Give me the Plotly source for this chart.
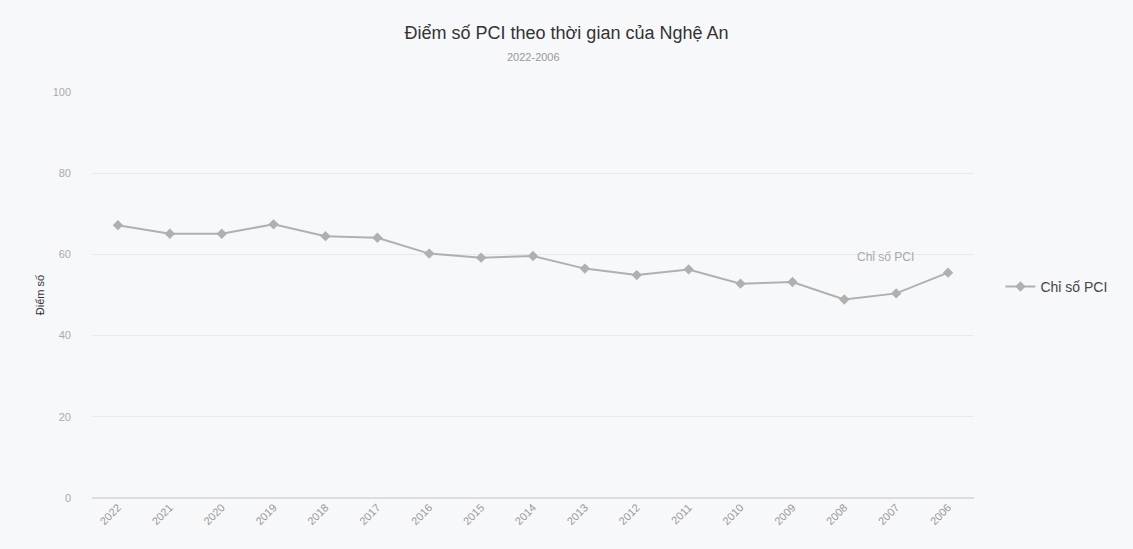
import plotly.graph_objects as go

years = ["2022", "2021", "2020", "2019", "2018", "2017", "2016", "2015", "2014",
         "2013", "2012", "2011", "2010", "2009", "2008", "2007", "2006"]
pci = [67.2, 65.1, 65.1, 67.4, 64.5, 64.1, 60.2, 59.2, 59.6,
       56.5, 54.9, 56.3, 52.8, 53.2, 48.9, 50.4, 55.5]
series_name = "Chỉ số PCI"
title_text = "Điểm số PCI theo thời gian của Nghệ An"
subtitle_text = "2022-2006"
y_title = "Điểm số"
y_ticks = [0, 20, 40, 60, 80, 100]

fig = go.Figure()
fig.add_trace(go.Scatter(
    x=years, y=pci, mode="lines+markers", name=series_name,
    line=dict(color="#b0b0b0", width=2),
    marker=dict(symbol="diamond", size=8, color="#b0b0b0"),
))

last = len(years) - 1

fig.update_layout(
    width=1133, height=549,
    paper_bgcolor="#f7f8fa", plot_bgcolor="#f7f8fa",
    font=dict(family="Liberation Sans, Arial, sans-serif", color="#555"),
    margin=dict(l=92, r=159, t=92, b=51, autoexpand=False),
    title=dict(text=title_text, x=0.5, xanchor="center", y=0.94, yanchor="middle",
               font=dict(size=18, color="#333")),
    annotations=[
        dict(text=subtitle_text, xref="paper", yref="paper", x=0.5, y=1.085,
             xanchor="center", yanchor="middle", showarrow=False,
             font=dict(size=11, color="#999")),
        dict(text=series_name, x=last, y=pci[last], xref="x", yref="y",
             xanchor="right", yanchor="bottom", xshift=-32, yshift=7, showarrow=False,
             font=dict(size=12, color="#a8a8a8")),
    ],
    showlegend=True,
    legend=dict(x=1.03, y=0.52, xanchor="left", yanchor="middle",
                font=dict(size=14, color="#444"), bgcolor="rgba(0,0,0,0)"),
)
fig.update_xaxes(type="category", range=[-0.5, len(years) - 0.5], tickangle=-45,
                 tickfont=dict(size=11, color="#999"), showgrid=False,
                 showline=False, zeroline=False)
fig.update_yaxes(range=[0, 100], tickvals=y_ticks, tickfont=dict(size=11, color="#aaa"),
                 ticklabelstandoff=20,
                 gridcolor="#e8e9ec", zeroline=True, zerolinecolor="#dcdde0",
                 title=dict(text=y_title, font=dict(size=11, color="#333"), standoff=5))

fig.write_html("out.html", config={"displayModeBar": False},
               post_script="document.body.style.margin='0px';")
